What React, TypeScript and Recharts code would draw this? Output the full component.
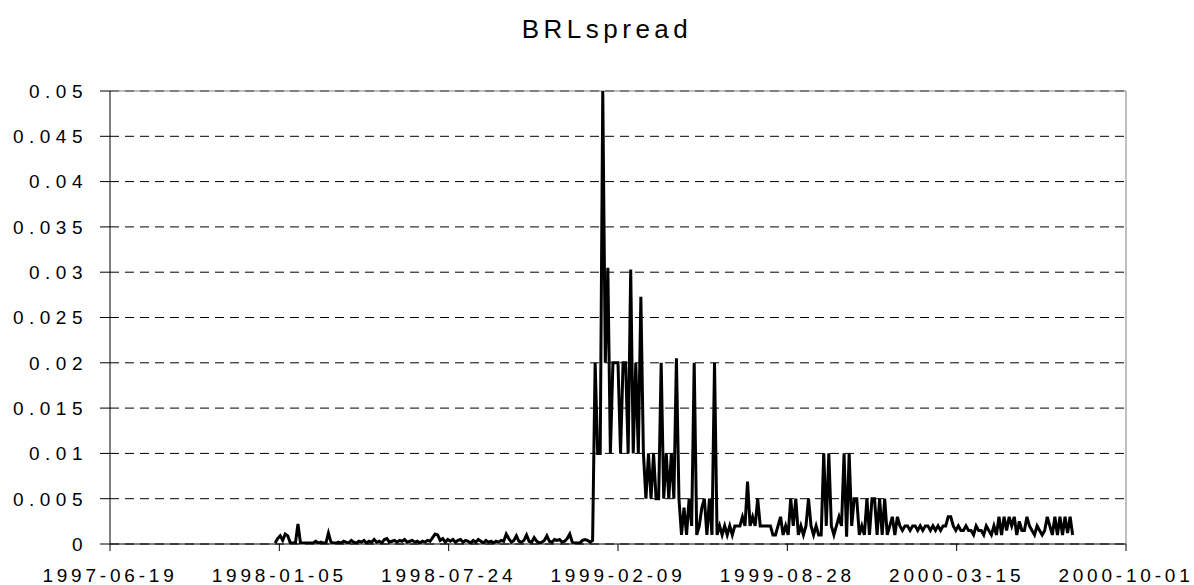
import React from 'react';
import { LineChart, Line, XAxis, YAxis, CartesianGrid, ReferenceLine } from 'recharts';

const TITLE = 'BRLspread';
const FONT = '"Liberation Sans", Arial, Helvetica, sans-serif';

// x-axis tick dates (every 200 days)
const xTickLabels = ['1997-06-19', '1998-01-05', '1998-07-24', '1999-02-09', '1999-08-28', '2000-03-15', '2000-10-01'];
// y-axis ticks
const yTicks = [0, 0.005, 0.01, 0.015, 0.02, 0.025, 0.03, 0.035, 0.04, 0.045, 0.05];

const STEP_DAYS = 3;

const start1998 = '1997-12-31';
const spread1998 = [
  0.0001, 0.0006, 0.0009, 0.0004, 0.0011, 0.0009, 0.0001, 0.0001, 0.0001, 0.0022,
  0.0001, 0.0001, 0.0001, 0.0001, 0.0001, 0.0001, 0.0003, 0.0001, 0.0002, 0.0001,
  0.0001, 0.0012, 0.0002, 0.0001, 0.0001, 0.0002, 0.0001, 0.0003, 0.0002, 0.0001,
  0.0004, 0.0002, 0.0001, 0.0003, 0.0002, 0.0004, 0.0001, 0.0003, 0.0002, 0.0005,
  0.0002, 0.0003, 0.0001, 0.0005, 0.0006, 0.0002, 0.0003, 0.0004, 0.0002, 0.0004,
  0.0003, 0.0005, 0.0002, 0.0003, 0.0004, 0.0002, 0.0003, 0.0001, 0.0003, 0.0002,
  0.0004, 0.0003, 0.0007, 0.0011, 0.001, 0.0004, 0.0006, 0.0002, 0.0005, 0.0003,
  0.0005, 0.0002, 0.0004, 0.0005, 0.0002, 0.0004, 0.0003, 0.0001, 0.0004, 0.0002,
  0.0005, 0.0003, 0.0001, 0.0004, 0.0002, 0.0003, 0.0001, 0.0003, 0.0002, 0.0004,
  0.0003, 0.0011, 0.0006, 0.0002, 0.0004, 0.0009, 0.0003, 0.0002, 0.0004, 0.001,
  0.0003, 0.0002, 0.0007, 0.0003, 0.0001, 0.0002, 0.0004, 0.0009, 0.0003, 0.0002,
  0.0005, 0.0004, 0.0005, 0.0002, 0.0003, 0.0006, 0.0011, 0.0002, 0.0001, 0.0001,
  0.0001, 0.0004,
];

const start1999 = '1999-01-01';
const spread1999 = [
  0.0005, 0.0004, 0.0002, 0.0004,
  0.02, 0.01, 0.01, 0.05, 0.02, 0.0305, 0.01, 0.02, 0.02, 0.02,
  0.01, 0.02, 0.02, 0.01, 0.0303, 0.01, 0.02, 0.01, 0.0273, 0.01,
  0.005, 0.01, 0.005, 0.01, 0.005, 0.005, 0.02, 0.005, 0.01, 0.005,
  0.01, 0.005, 0.0205, 0.005, 0.001, 0.004, 0.001, 0.005, 0.002, 0.02,
  0.001, 0.002, 0.004, 0.005, 0.001, 0.005, 0.001, 0.02, 0.001, 0.002,
  0.001, 0.002, 0.001, 0.002, 0.001, 0.002, 0.002, 0.002, 0.003, 0.002,
  0.0069, 0.002, 0.003, 0.002, 0.005, 0.002, 0.002, 0.002, 0.002, 0.002,
  0.001, 0.001, 0.002, 0.003, 0.001, 0.002, 0.001, 0.005, 0.002, 0.005,
  0.001, 0.002, 0.001, 0.002, 0.005, 0.002, 0.001, 0.002, 0.001, 0.001,
  0.01, 0.002, 0.01, 0.002, 0.001, 0.002, 0.003, 0.002, 0.01, 0.0008,
  0.01, 0.002, 0.005, 0.005, 0.001, 0.002, 0.001, 0.005, 0.001, 0.005,
  0.005, 0.001, 0.005, 0.001, 0.005, 0.001, 0.002, 0.003,
];

const start2000 = '2000-01-02';
const spread2000 = [
  0.001, 0.003, 0.002, 0.0015, 0.002, 0.002, 0.0015, 0.002, 0.002, 0.0015,
  0.002, 0.0015, 0.002, 0.002, 0.0015, 0.002, 0.0015, 0.002, 0.0015, 0.002,
  0.002, 0.003, 0.003, 0.002, 0.0015, 0.002, 0.0015, 0.0015, 0.002, 0.0015,
  0.0015, 0.001, 0.002, 0.0015, 0.0015, 0.001, 0.002, 0.0015, 0.001, 0.002,
  0.001, 0.003, 0.001, 0.003, 0.0015, 0.003, 0.002, 0.003, 0.001, 0.0025,
  0.0015, 0.0015, 0.003, 0.002, 0.0015, 0.001, 0.002, 0.0015, 0.001, 0.0015,
  0.003, 0.002, 0.001, 0.003, 0.001, 0.003, 0.001, 0.003, 0.0012, 0.003,
  0.001,
];

const DAY_MS = 86400000;
const toMs = (s: string) => Date.parse(s + 'T00:00:00Z');

const segments: [string, number[]][] = [
  [start1998, spread1998],
  [start1999, spread1999],
  [start2000, spread2000],
];

const data: { t: number; v: number }[] = [];
segments.forEach(([start, values]) => {
  const t0 = toMs(start);
  values.forEach((v, i) => data.push({ t: t0 + i * STEP_DAYS * DAY_MS, v }));
});

const xTicks = xTickLabels.map(toMs);
const xDomain = [xTicks[0], xTicks[xTicks.length - 1]];

const fmtDate = (ms: number) => {
  const d = new Date(ms);
  const p = (n: number) => String(n).padStart(2, '0');
  return `${d.getUTCFullYear()}-${p(d.getUTCMonth() + 1)}-${p(d.getUTCDate())}`;
};
const fmtY = (v: number) => String(Number(v.toFixed(4)));

const XTick = (props: any) => {
  const { x, y, payload } = props;
  return (
    <text x={x} y={y} dy={31} textAnchor="middle" fill="#000"
      style={{ fontFamily: FONT, fontSize: 19, letterSpacing: '3.8px' }}>
      {fmtDate(payload.value)}
    </text>
  );
};

const YTick = (props: any) => {
  const { x, y, payload } = props;
  return (
    <text x={x} y={y} dy="0.36em" textAnchor="end" fill="#000"
      style={{ fontFamily: FONT, fontSize: 19, letterSpacing: '5.5px' }}>
      {fmtY(payload.value)}
    </text>
  );
};

export default function App() {
  return (
    <div style={{ position: 'relative', width: 1194, height: 585, background: '#fff' }}>
      <style>{'body{margin:0;}'}</style>
      <LineChart width={1194} height={585} data={data}
        margin={{ top: 91, right: 68, bottom: 11, left: 50 }}>
        <CartesianGrid vertical={false} stroke="#000" strokeDasharray="9 6" />
        <XAxis type="number" dataKey="t" domain={xDomain} ticks={xTicks} allowDataOverflow
          height={30} tickSize={7} tickMargin={0} tick={<XTick />} interval={0}
          axisLine={{ stroke: '#000', strokeWidth: 1 }} tickLine={{ stroke: '#000' }} />
        <YAxis type="number" domain={[0, 0.05]} ticks={yTicks} allowDataOverflow
          width={60} tickSize={10} tickMargin={12} tick={<YTick />} interval={0}
          axisLine={{ stroke: '#000', strokeWidth: 1 }} tickLine={{ stroke: '#000' }} />
        <ReferenceLine y={0.05} stroke="#808080" strokeWidth={1} />
        <ReferenceLine x={xDomain[1]} stroke="#808080" strokeWidth={1} />
        <Line type="linear" dataKey="v" stroke="#000" strokeWidth={3} dot={false}
          isAnimationActive={false} strokeLinejoin="miter" />
      </LineChart>
      <svg width={1194} height={60} style={{ position: 'absolute', left: 0, top: 0, pointerEvents: 'none' }}>
        <text x={607} y={38} textAnchor="middle" fill="#000"
          style={{ fontFamily: FONT, fontSize: 26, letterSpacing: '4.5px' }}>{TITLE}</text>
      </svg>
    </div>
  );
}
